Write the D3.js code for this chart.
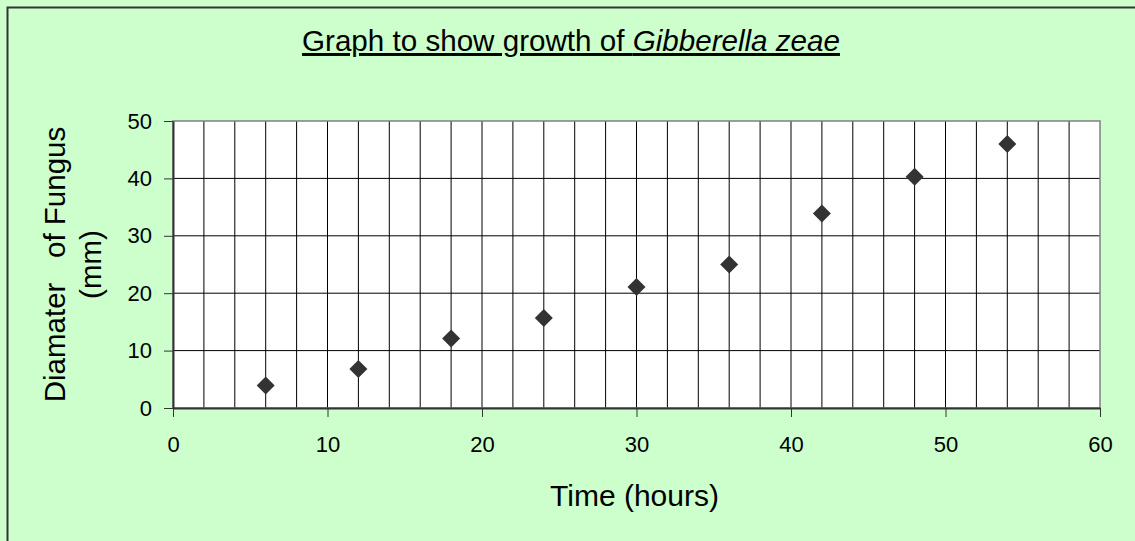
<!DOCTYPE html>
<html>
<head>
<meta charset="utf-8">
<script src="https://cdn.jsdelivr.net/npm/d3@7"></script>
<style>
  body { margin: 0; background: #ccffcc; }
  text { font-family: "Liberation Sans", Arial, sans-serif; fill: #000; }
</style>
</head>
<body>
<div id="chart"></div>
<script>
// data
var hours = [6, 12, 18, 24, 30, 36, 42, 48, 54];
var diameter = [3.9, 6.8, 12.1, 15.7, 21.1, 25.0, 33.9, 40.3, 46.0];
var xTicks = [0, 10, 20, 30, 40, 50, 60];
var yTicks = [0, 10, 20, 30, 40, 50];

var svgWidth = 1135;
var svgHeight = 541;

var margin = { top: 121, right: 35, bottom: 133, left: 173 };
var width = svgWidth - margin.left - margin.right;
var height = svgHeight - margin.top - margin.bottom;

var svg = d3.select("#chart")
  .append("svg")
  .attr("width", svgWidth)
  .attr("height", svgHeight);

// chart area background and frame (only top/left visible)
svg.append("rect")
  .attr("width", svgWidth)
  .attr("height", svgHeight)
  .attr("fill", "#ccffcc");

svg.append("path")
  .attr("d", `M7.5,${svgHeight} L7.5,7.5 L${svgWidth},7.5`)
  .attr("fill", "none")
  .attr("stroke", "#333")
  .attr("stroke-width", 2);

var chartGroup = svg.append("g")
  .attr("transform", `translate(${margin.left}, ${margin.top})`);

var xScale = d3.scaleLinear().domain([0, 60]).range([0, width]);
var yScale = d3.scaleLinear().domain([0, 50]).range([height, 0]);

// plot area
chartGroup.append("rect")
  .attr("width", width)
  .attr("height", height)
  .attr("fill", "#fff");

// vertical gridlines every 2 hours
chartGroup.append("g")
  .selectAll("line")
  .data(d3.range(2, 60, 2))
  .enter()
  .append("line")
  .attr("x1", d => xScale(d))
  .attr("x2", d => xScale(d))
  .attr("y1", 0)
  .attr("y2", height)
  .attr("stroke", "#000")
  .attr("stroke-width", 1);

// horizontal gridlines
chartGroup.append("g")
  .selectAll("line")
  .data(yTicks.slice(1, -1))
  .enter()
  .append("line")
  .attr("x1", 0)
  .attr("x2", width)
  .attr("y1", d => yScale(d))
  .attr("y2", d => yScale(d))
  .attr("stroke", "#000")
  .attr("stroke-width", 1);

// plot border
chartGroup.append("rect")
  .attr("width", width)
  .attr("height", height)
  .attr("fill", "none")
  .attr("stroke", "#808080")
  .attr("stroke-width", 1.5);

// axes
var bottomAxis = d3.axisBottom(xScale)
  .tickValues(xTicks)
  .tickSize(9)
  .tickSizeOuter(0)
  .tickPadding(19);

var leftAxis = d3.axisLeft(yScale)
  .tickValues(yTicks)
  .tickSize(9)
  .tickSizeOuter(0)
  .tickPadding(12);

var xAxis = chartGroup.append("g")
  .attr("transform", `translate(0, ${height})`)
  .call(bottomAxis);

var yAxis = chartGroup.append("g")
  .call(leftAxis);

[xAxis, yAxis].forEach(function(ax) {
  ax.select(".domain").attr("stroke", "#333").attr("stroke-width", 2);
  ax.selectAll(".tick line").attr("stroke", "#333").attr("stroke-width", 1);
  ax.selectAll(".tick text")
    .attr("font-size", "22px")
    .attr("font-family", "'Liberation Sans', Arial, sans-serif")
    .attr("fill", "#000");
});

// diamond markers
var diamond = d3.symbol().type(d3.symbolSquare).size(162);

chartGroup.selectAll(".point")
  .data(hours)
  .enter()
  .append("path")
  .attr("class", "point")
  .attr("d", diamond)
  .attr("transform", (d, i) => `translate(${xScale(d)}, ${yScale(diameter[i])}) rotate(45)`)
  .attr("fill", "#333");

// title
var title = svg.append("text")
  .attr("x", 571)
  .attr("y", 51)
  .attr("text-anchor", "middle")
  .attr("font-size", "29.6px")
  .attr("text-decoration", "underline");
title.append("tspan").text("Graph to show growth of ");
title.append("tspan").attr("font-style", "italic").text("Gibberella zeae");

// x axis label
svg.append("text")
  .attr("x", margin.left + width / 2 - 2)
  .attr("y", 506)
  .attr("text-anchor", "middle")
  .attr("font-size", "30px")
  .text("Time (hours)");

// y axis label, two lines
var yLabel = svg.append("text")
  .attr("transform", `translate(65, ${margin.top + height / 2}) rotate(-90)`)
  .attr("text-anchor", "middle")
  .attr("font-size", "29.5px")
  .style("white-space", "pre");
yLabel.append("tspan").attr("x", 0).attr("y", 0).text("Diamater   of Fungus");
yLabel.append("tspan").attr("x", 0).attr("y", 36).text("(mm)");
</script>
</body>
</html>
